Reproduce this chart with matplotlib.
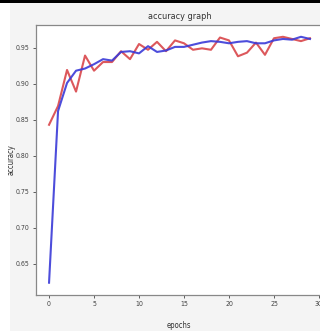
import matplotlib
matplotlib.use("Agg")
import matplotlib.pyplot as plt
from matplotlib.patches import Rectangle

epochs = list(range(30))
acc_red = [0.843, 0.869, 0.919, 0.889, 0.939, 0.918, 0.930, 0.930, 0.945, 0.934,
           0.955, 0.947, 0.958, 0.945, 0.960, 0.956, 0.947, 0.949, 0.947, 0.964,
           0.960, 0.938, 0.943, 0.957, 0.940, 0.963, 0.965, 0.962, 0.959, 0.963]
acc_blue = [0.624, 0.862, 0.901, 0.918, 0.921, 0.927, 0.934, 0.932, 0.944, 0.945,
            0.942, 0.952, 0.944, 0.946, 0.951, 0.951, 0.954, 0.957, 0.959, 0.958,
            0.956, 0.958, 0.959, 0.956, 0.956, 0.960, 0.962, 0.961, 0.965, 0.962]
xticks = [0, 5, 10, 15, 20, 25, 30]
yticks = [0.65, 0.70, 0.75, 0.80, 0.85, 0.90, 0.95]

plt.rcParams['font.family'] = ['DejaVu Sans']
plt.rcParams['font.stretch'] = 'condensed'

W, H = 320, 335
fig = plt.figure(figsize=(W / 100, H / 100), dpi=100, facecolor='white')
# screenshot background
fig.patches.append(Rectangle((10 / W, 1 - 331 / H), 310 / W, 328 / H,
                             transform=fig.transFigure, facecolor='#f4f4f4',
                             edgecolor='none', zorder=-10))
fig.patches.append(Rectangle((0, 1 - 2.5 / H), 1, 2.5 / H,
                             transform=fig.transFigure, facecolor='black',
                             edgecolor='none', zorder=-10))

ax = fig.add_axes([36 / W, 1 - 295 / H, 287 / W, 270.5 / H])
ax.set_zorder(5)
ax.set_facecolor('white')
ax.plot(epochs, acc_red, color='#d9464a', lw=1.5, alpha=0.9)
ax.plot(epochs, acc_blue, color='#3a3ad8', lw=1.5, alpha=0.9)
ax.set_xticks(xticks)
ax.set_yticks(yticks)
ax.set_yticklabels([f"{v:.2f}" for v in yticks])
ax.tick_params(labelsize=5, length=2.5, width=0.6, colors='#444444', pad=2)
for s in ax.spines.values():
    s.set_color('#888888')
    s.set_linewidth(0.9)
ax.set_title("accuracy graph", fontsize=6.5, color='#333333', pad=4)
ax.set_xlabel("epochs", fontsize=5.5, color='#333333')
ax.set_ylabel("accuracy", fontsize=5.5, color='#333333')
ax.xaxis.set_label_coords((179 - 36) / 287, -(321 - 295) / 270.5)
ax.yaxis.set_label_coords((16 - 36) / 287, 0.5)
fig.savefig("out.png", dpi=100, facecolor='white')
